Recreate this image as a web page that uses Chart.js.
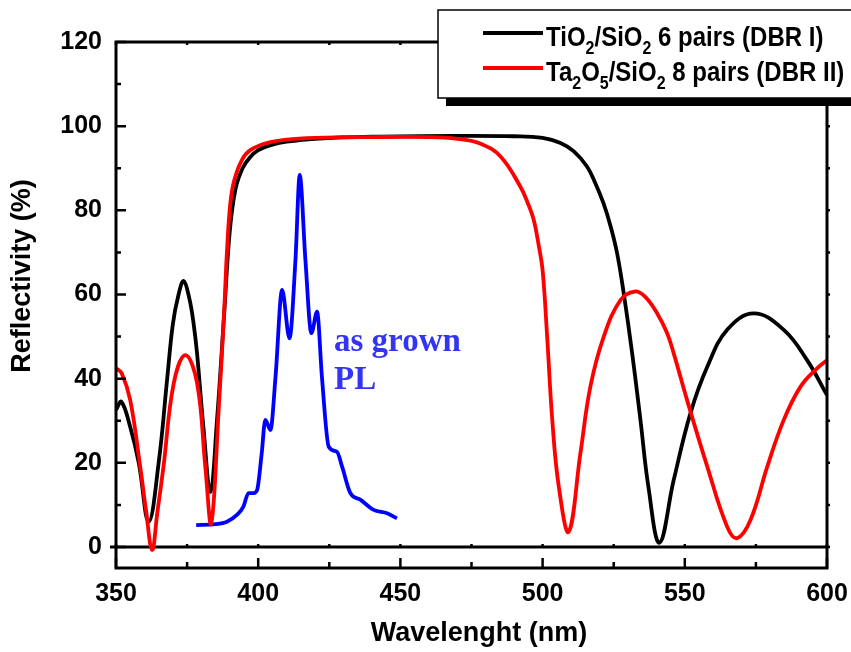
<!DOCTYPE html>
<html>
<head>
<meta charset="utf-8">
<script src="https://cdn.jsdelivr.net/npm/chart.js@4/dist/chart.umd.min.js"></script>
<style>
  html, body { margin: 0; padding: 0; background: #fff; }
  #wrap { width: 851px; height: 652px; }
</style>
</head>
<body>
<div id="wrap"><canvas id="chart"></canvas></div>
<script>
// TiO2/SiO2 6 pairs (DBR I): wavelength (nm) / reflectivity (%)
var wlDbr1 = [350, 351.9, 355, 358, 361.5, 365, 368, 370, 372, 373.8, 375.8, 377.3, 378.5, 380.8, 383.2,
  385.5, 388, 390, 392, 394.5, 397, 400, 405, 410, 420, 440, 470, 490, 500, 506.3, 511, 515.6, 518.5,
  521.4, 524, 526.2, 528.5, 531.5, 534.4, 537.2, 541.1, 546.1, 552, 557.9, 564.9, 574.3, 584.8, 593, 600];
var rDbr1 = [32.6, 34.5, 28.5, 20, 6, 20, 40, 53, 60, 63.2, 59, 53, 46, 28, 13.1,
  30, 55, 75, 85, 90, 92.5, 94.3, 95.6, 96.3, 97, 97.5, 97.7, 97.6, 97.2, 96, 94, 90.4, 86.5,
  81.7, 76, 69.8, 60.4, 46, 30.2, 14.3, 1, 15.9, 31.8, 42.8, 51.6, 55.5, 51.6, 44.4, 36.1];

// Ta2O5/SiO2 8 pairs (DBR II)
var wlDbr2 = [350, 352, 355, 358.5, 360.5, 362.7, 364.5, 366.7, 370.3, 374.4, 378.5, 381.4, 383.5,
  386.1, 388.1, 389, 390.2, 391.6, 394.3, 397.2, 403, 410, 420, 440, 460, 470, 478, 485.2, 492.2,
  494.8, 496.9, 498.7, 500, 501.6, 503.4, 505.7, 509.2, 513.3, 516.8, 521.5, 527.4, 532.3, 536, 540.3,
  543.8, 546.1, 550.8, 557.9, 564.9, 568.4, 573.1, 579, 584.8, 590.7, 596.6, 600];
var rDbr2 = [42.5, 41.3, 34.9, 19.1, 9, -0.7, 8, 19.1, 38.9, 45.6, 39, 19.1, 5.6,
  32.6, 57, 70, 81.7, 87.2, 92, 94.3, 96, 96.8, 97.2, 97.4, 97.4, 97, 95.9, 92.8, 85.6,
  81.7, 77.7, 71.4, 65.8, 50, 30.2, 14.3, 3.6, 22.3, 38.1, 50, 58.7, 60.7, 59.5, 55.5,
  50.8, 46, 34.9, 19.1, 4.8, 2.1, 6.4, 19.1, 30.2, 38.1, 42.5, 44.4];

// as grown PL spectrum, plotted on the reflectivity axis
var wlPl = [378.2, 385, 389, 392.5, 394.8, 396.6, 398.4, 399.6, 401.2, 402.5, 404.3, 406.1, 408.4, 411,
  413.1, 414.6, 416.6, 418.7, 420.7, 422.4, 424.8, 427.7, 429.5, 432.4, 436, 440.6, 445.3, 448.8];
var pl = [5.2, 5.4, 6, 7.6, 9.6, 12.8, 12.8, 13.5, 22, 30.2, 27.8, 40.5, 61.1, 49.6,
  68.2, 88.4, 68.2, 50.8, 55.9, 40.5, 23.8, 22.6, 19.1, 12.8, 11.2, 8.8, 8, 6.8];

var xTicks = [350, 400, 450, 500, 550, 600];
var yTicks = [0, 20, 40, 60, 80, 100, 120];
var xMinorStep = 25;
var yMinorStep = 10;

var xTitle = 'Wavelenght (nm)';
var yTitle = 'Reflectivity (%)';
var plLabel = ['as grown', 'PL'];
// [text, subscript?]
var legendDbr1 = [['TiO', 0], ['2', 1], ['/SiO', 0], ['2', 1], [' 6 pairs (DBR I)', 0]];
var legendDbr2 = [['Ta', 0], ['2', 1], ['O', 0], ['5', 1], ['/SiO', 0], ['2', 1], [' 8 pairs (DBR II)', 0]];

var SANS = '"Liberation Sans", Arial, sans-serif';
var SERIF = '"Liberation Serif", "Times New Roman", serif';

function pts(xs, ys) {
  return xs.map(function (x, i) { return { x: x, y: ys[i] }; });
}

function richText(ctx, segs, x, y, size, sy) {
  ctx.save();
  ctx.translate(x, y);
  ctx.scale(1, sy);
  ctx.textBaseline = 'alphabetic';
  ctx.textAlign = 'left';
  var cx = 0;
  segs.forEach(function (s) {
    var sub = s[1];
    ctx.font = 'bold ' + (sub ? Math.round(size * 0.66) : size) + 'px ' + SANS;
    ctx.fillText(s[0], cx, sub ? size * 0.3 : 0);
    cx += ctx.measureText(s[0]).width;
  });
  ctx.restore();
}

var decor = {
  id: 'decor',
  beforeDatasetsDraw: function (chart) {
    var ctx = chart.ctx, a = chart.chartArea;
    var y0 = chart.scales.y.getPixelForValue(0);
    ctx.save();
    ctx.strokeStyle = '#000';
    ctx.lineWidth = 3;
    ctx.beginPath();
    ctx.moveTo(a.left - 6, y0);
    ctx.lineTo(a.right, y0);
    ctx.stroke();
    ctx.restore();
  },
  afterDatasetsDraw: function (chart) {
    var ctx = chart.ctx, a = chart.chartArea;
    var sx = chart.scales.x, sy = chart.scales.y;
    ctx.save();
    ctx.strokeStyle = '#000';
    ctx.lineWidth = 3;
    ctx.strokeRect(a.left, a.top, a.right - a.left, a.bottom - a.top);

    ctx.lineWidth = 2.5;
    ctx.beginPath();
    var v, p, major;
    for (v = sx.min; v <= sx.max; v += xMinorStep) {
      p = sx.getPixelForValue(v);
      major = xTicks.indexOf(v) >= 0;
      ctx.moveTo(p, a.bottom);
      ctx.lineTo(p, a.bottom - (major ? 10 : 6));
      ctx.moveTo(p, a.top);
      ctx.lineTo(p, a.top + 3);
      ctx.moveTo(p, sy.getPixelForValue(0));
      ctx.lineTo(p, sy.getPixelForValue(0) - 3);
    }
    for (v = 0; v <= 120; v += yMinorStep) {
      p = sy.getPixelForValue(v);
      major = yTicks.indexOf(v) >= 0;
      ctx.moveTo(a.left, p);
      ctx.lineTo(a.left + (major ? 10 : 5), p);
      ctx.moveTo(a.right, p);
      ctx.lineTo(a.right + 3, p);
    }
    ctx.stroke();
    ctx.restore();
  },
  afterDraw: function (chart) {
    var ctx = chart.ctx;
    ctx.save();

    // axis titles
    ctx.fillStyle = '#000';
    ctx.font = 'bold 27px ' + SANS;
    ctx.textAlign = 'center';
    ctx.textBaseline = 'middle';
    ctx.fillText(xTitle, 479, 634);
    ctx.save();
    ctx.translate(23, 276);
    ctx.rotate(-Math.PI / 2);
    ctx.fillText(yTitle, 0, 0);
    ctx.restore();

    // PL annotation
    ctx.fillStyle = '#3434f6';
    ctx.font = 'bold 33px ' + SERIF;
    ctx.textAlign = 'left';
    ctx.textBaseline = 'alphabetic';
    ctx.fillText(plLabel[0], 334, 351);
    ctx.fillText(plLabel[1], 334, 389);

    // legend box with drop shadow
    ctx.fillStyle = '#000';
    ctx.fillRect(446, 18, 420, 88);
    ctx.fillStyle = '#fff';
    ctx.fillRect(438, 10, 420, 88);
    ctx.strokeStyle = '#000';
    ctx.lineWidth = 1.5;
    ctx.strokeRect(438, 10, 420, 88);

    ctx.lineWidth = 3.8;
    ctx.strokeStyle = '#000';
    ctx.beginPath(); ctx.moveTo(483, 33); ctx.lineTo(543, 33); ctx.stroke();
    ctx.strokeStyle = '#ff0000';
    ctx.beginPath(); ctx.moveTo(483, 68); ctx.lineTo(543, 68); ctx.stroke();

    ctx.fillStyle = '#000';
    richText(ctx, legendDbr1, 546, 46, 24, 1.12);
    richText(ctx, legendDbr2, 546, 81, 24, 1.12);
    ctx.restore();
  }
};

var tickFont = { family: SANS, size: 25, weight: 'bold' };

new Chart(document.getElementById('chart'), {
  type: 'line',
  data: {
    datasets: [
      { data: pts(wlDbr2, rDbr2), borderColor: '#ff0000', tension: 0.4 },
      { data: pts(wlDbr1, rDbr1), borderColor: '#000000', tension: 0.4 },
      { data: pts(wlPl, pl), borderColor: '#0000ff', cubicInterpolationMode: 'monotone' }
    ]
  },
  options: {
    responsive: true,
    maintainAspectRatio: false,
    animation: false,
    layout: { padding: { left: 0, right: 24, top: 42, bottom: 0 } },
    plugins: { legend: { display: false }, tooltip: { enabled: false } },
    elements: {
      point: { radius: 0 },
      line: { borderWidth: 3.8, fill: false }
    },
    scales: {
      x: {
        type: 'linear',
        min: 350,
        max: 600,
        grid: { display: false, drawTicks: false, tickLength: 0 },
        border: { display: false },
        afterBuildTicks: function (s) { s.ticks = xTicks.map(function (v) { return { value: v }; }); },
        afterFit: function (s) { s.height = 84; s.paddingLeft = 0; s.paddingRight = 0; },
        ticks: { color: '#000', font: tickFont, padding: 11, maxRotation: 0, autoSkip: false }
      },
      y: {
        type: 'linear',
        min: -5,
        max: 120,
        grid: { display: false, drawTicks: false, tickLength: 0 },
        border: { display: false },
        afterBuildTicks: function (s) { s.ticks = yTicks.map(function (v) { return { value: v }; }); },
        afterFit: function (s) { s.width = 116; s.paddingTop = 0; s.paddingBottom = 0; },
        ticks: { color: '#000', font: tickFont, padding: 14, autoSkip: false }
      }
    }
  },
  plugins: [decor]
});
</script>
</body>
</html>
